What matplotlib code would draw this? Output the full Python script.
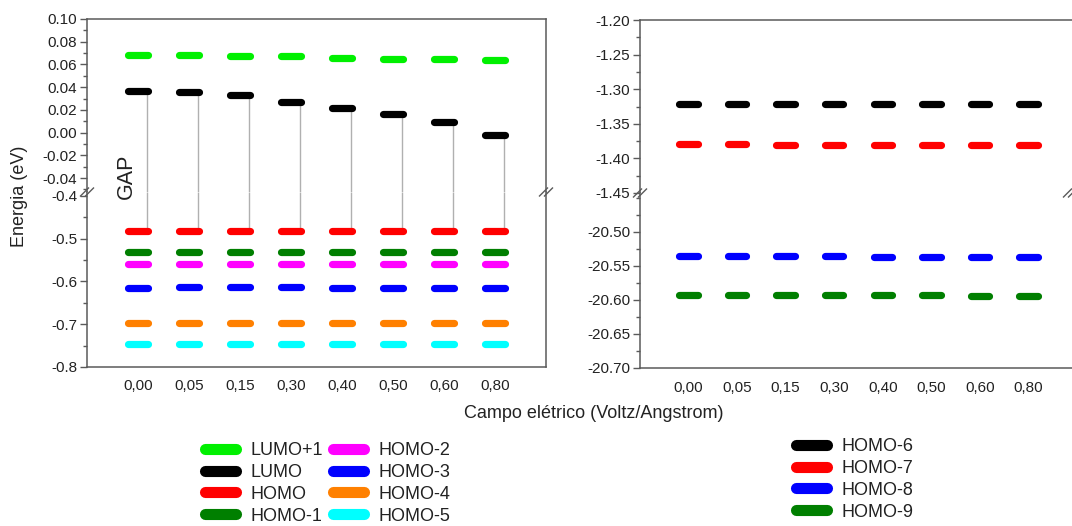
import numpy as np
import matplotlib.pyplot as plt
from matplotlib.lines import Line2D
from matplotlib.ticker import MultipleLocator, FixedLocator, FormatStrFormatter

plt.rcParams['font.family'] = ['Liberation Sans', 'DejaVu Sans']

# campo elétrico aplicado (V/A)
campo = ['0,00', '0,05', '0,15', '0,30', '0,40', '0,50', '0,60', '0,80']

# níveis de energia (eV) - painel esquerdo
lumo1 = [0.068, 0.068, 0.067, 0.067, 0.066, 0.065, 0.065, 0.064]
lumo = [0.037, 0.036, 0.0335, 0.027, 0.022, 0.016, 0.009, -0.002]
homo = [-0.482, -0.482, -0.482, -0.482, -0.482, -0.482, -0.482, -0.482]
homo1 = [-0.531, -0.531, -0.531, -0.531, -0.531, -0.531, -0.531, -0.531]
homo2 = [-0.559, -0.559, -0.559, -0.559, -0.559, -0.559, -0.559, -0.559]
homo3 = [-0.615, -0.614, -0.614, -0.614, -0.615, -0.615, -0.615, -0.615]
homo4 = [-0.696, -0.696, -0.696, -0.696, -0.696, -0.696, -0.696, -0.697]
homo5 = [-0.746, -0.746, -0.746, -0.746, -0.746, -0.746, -0.746, -0.747]

# painel direito
homo6 = [-1.321, -1.321, -1.321, -1.321, -1.321, -1.322, -1.322, -1.322]
homo7 = [-1.379, -1.379, -1.380, -1.380, -1.380, -1.380, -1.380, -1.380]
homo8 = [-20.536, -20.536, -20.536, -20.536, -20.537, -20.537, -20.537, -20.537]
homo9 = [-20.593, -20.593, -20.593, -20.593, -20.593, -20.593, -20.594, -20.594]

cores = {
    'LUMO+1': '#00f000', 'LUMO': '#000000', 'HOMO': '#ff0000', 'HOMO-1': '#007f00',
    'HOMO-2': '#ff00ff', 'HOMO-3': '#0000ff', 'HOMO-4': '#ff8000', 'HOMO-5': '#00ffff',
    'HOMO-6': '#000000', 'HOMO-7': '#ff0000', 'HOMO-8': '#0000ff', 'HOMO-9': '#007f00',
}

W, H = 1072, 526
fig = plt.figure(figsize=(W / 100, H / 100), dpi=100)
cor_eixo = '#5a5a5a'
cor_texto = '#222222'


def eixo(x0, y0, x1, y1):
    return fig.add_axes([x0 / W, 1 - y1 / H, (x1 - x0) / W, (y1 - y0) / H])


def estilo(ax, parte):
    for s in ax.spines.values():
        s.set_color(cor_eixo)
        s.set_linewidth(1.1)
    if parte == 'cima':
        ax.spines['bottom'].set_visible(False)
    else:
        ax.spines['top'].set_visible(False)
    ax.tick_params(axis='y', which='major', direction='out', length=5, width=1,
                   color=cor_eixo, labelsize=11, labelcolor=cor_texto, pad=2)
    ax.tick_params(axis='y', which='minor', direction='out', length=3, width=1,
                   color=cor_eixo)
    ax.tick_params(axis='x', which='both', length=0, labelsize=11,
                   labelcolor=cor_texto, pad=9)
    ax.set_xlim(0, 9)
    ax.set_xticks(x)
    if parte == 'cima':
        ax.tick_params(axis='x', labelbottom=False)
    else:
        ax.set_xticklabels(campo)


def niveis(ax, valores, nome):
    for xi, v in zip(x, valores):
        ax.plot([xi - 0.19, xi + 0.19], [v, v], color=cores[nome], lw=5.2,
                solid_capstyle='round')


def quebra(x_px, y_px):
    for dx in (-2.5, 2.5):
        fig.add_artist(Line2D([(x_px + dx - 4) / W, (x_px + dx + 4) / W],
                              [1 - (y_px + 4) / H, 1 - (y_px - 4) / H],
                              color=cor_eixo, lw=1.0))


x = np.arange(1, len(campo) + 1)

# painel esquerdo, com quebra no eixo y
axA = eixo(87, 19, 546, 192)
axB = eixo(87, 192, 546, 367)
estilo(axA, 'cima')
estilo(axB, 'baixo')
axA.set_ylim(-0.0523, 0.10)
axB.set_ylim(-0.80, -0.391)
axA.yaxis.set_major_locator(MultipleLocator(0.02))
axA.yaxis.set_minor_locator(MultipleLocator(0.01))
axA.yaxis.set_major_formatter(FormatStrFormatter('%.2f'))
axB.yaxis.set_major_locator(MultipleLocator(0.1))
axB.yaxis.set_minor_locator(MultipleLocator(0.05))
axB.yaxis.set_major_formatter(FormatStrFormatter('%.1f'))

# linhas do gap LUMO-HOMO
axA.vlines(x + 0.18, axA.get_ylim()[0], lumo, color='#b0b0b0', lw=1)
axB.vlines(x + 0.18, homo, axB.get_ylim()[1], color='#b0b0b0', lw=1)

niveis(axA, lumo1, 'LUMO+1')
niveis(axA, lumo, 'LUMO')
for serie, nome in [(homo, 'HOMO'), (homo1, 'HOMO-1'), (homo2, 'HOMO-2'),
                    (homo3, 'HOMO-3'), (homo4, 'HOMO-4'), (homo5, 'HOMO-5')]:
    niveis(axB, serie, nome)

# painel direito
axC = eixo(640, 20, 1077, 193)
axD = eixo(640, 193, 1077, 368)
estilo(axC, 'cima')
estilo(axD, 'baixo')
axC.set_ylim(-1.45, -1.20)
axD.set_ylim(-20.70, -20.4433)
axC.yaxis.set_major_locator(MultipleLocator(0.05))
axD.yaxis.set_major_locator(FixedLocator([-20.70, -20.65, -20.60, -20.55, -20.50]))
for ax in (axC, axD):
    ax.yaxis.set_minor_locator(MultipleLocator(0.025))
    ax.yaxis.set_major_formatter(FormatStrFormatter('%.2f'))
niveis(axC, homo6, 'HOMO-6')
niveis(axC, homo7, 'HOMO-7')
niveis(axD, homo8, 'HOMO-8')
niveis(axD, homo9, 'HOMO-9')

quebra(87, 192)
quebra(546, 192)
quebra(640, 193)
quebra(1070, 193)

fig.text(126 / W, 1 - 176 / H, 'GAP', rotation=90, fontsize=15.5,
         color=cor_texto, ha='center', va='center')
fig.text(20 / W, 1 - 196 / H, 'Energia (eV)', rotation=90, fontsize=13,
         color=cor_texto, ha='center', va='center')
fig.text(594 / W, 1 - 414 / H, 'Campo elétrico (Voltz/Angstrom)', fontsize=13,
         color=cor_texto, ha='center', va='center')


def alca(nome):
    return Line2D([], [], color=cores[nome], lw=8, solid_capstyle='round')


nomes_esq = ['LUMO+1', 'LUMO', 'HOMO', 'HOMO-1', 'HOMO-2', 'HOMO-3', 'HOMO-4', 'HOMO-5']
nomes_dir = ['HOMO-6', 'HOMO-7', 'HOMO-8', 'HOMO-9']
opts = dict(loc='upper left', frameon=False, fontsize=13, handlelength=1.7,
            handletextpad=0.8, labelspacing=0.27, borderpad=0, borderaxespad=0)
leg1 = fig.legend([alca(n) for n in nomes_esq], nomes_esq, ncol=2, columnspacing=0.6,
                  bbox_to_anchor=(205 / W, 1 - 442 / H), **opts)
leg2 = fig.legend([alca(n) for n in nomes_dir], nomes_dir,
                  bbox_to_anchor=(796 / W, 1 - 438 / H), **opts)
for leg in (leg1, leg2):
    for t in leg.get_texts():
        t.set_color(cor_texto)

fig.savefig('out.png', dpi=100)
